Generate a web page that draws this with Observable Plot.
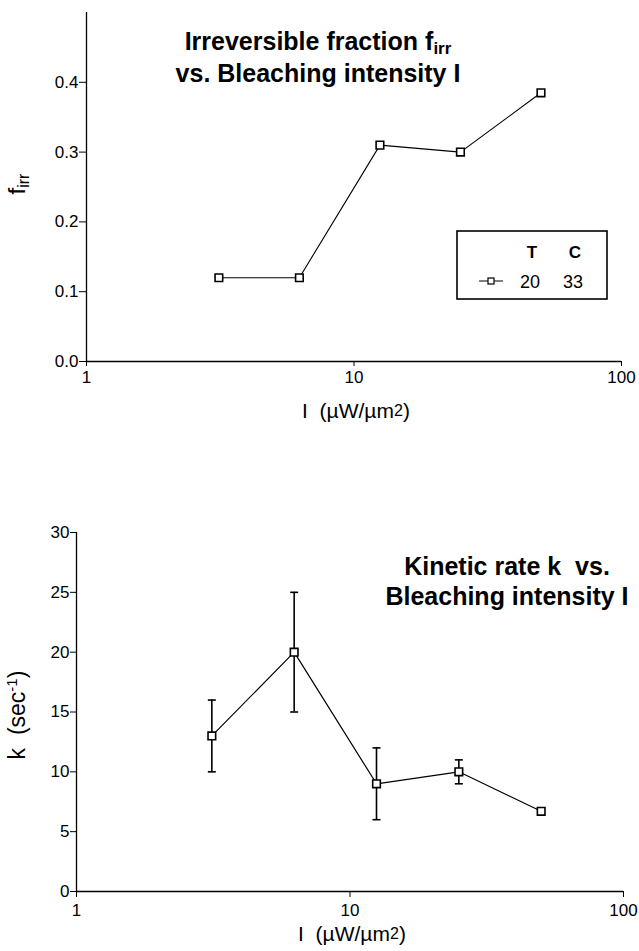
<!DOCTYPE html>
<html>
<head>
<meta charset="utf-8">
<script src="https://cdn.jsdelivr.net/npm/d3@7"></script>
<script src="https://cdn.jsdelivr.net/npm/@observablehq/plot@0.6"></script>
<style>
  body { margin: 0; background: #fff; }
  #wrap { width: 639px; }
  #wrap svg { display: block; }
</style>
</head>
<body>
<div id="wrap"></div>
<script>
// ---- data ----
const intensity = [3.125, 6.25, 12.5, 25, 50];      // I (µW/µm²)
const fIrr      = [0.12, 0.12, 0.31, 0.30, 0.385];   // irreversible fraction
const kRate     = [13, 20, 9, 10, 6.7];              // kinetic rate k (sec^-1)
const kLow      = [10, 15, 6, 9, 6.5];
const kHigh     = [16, 25, 12, 11, 6.9];
const xTicks    = [1, 10, 100];
const fTicks    = [0, 0.1, 0.2, 0.3, 0.4];
const kTicks    = [0, 5, 10, 15, 20, 25, 30];
const legendHeaders = ["T", "C"];
const legendValues  = ["20", "33"];

const FONT = "'Liberation Sans', Arial, Helvetica, sans-serif";

const fRows = intensity.map((x, i) => ({x, y: fIrr[i]}));
const kRows = intensity.map((x, i) => ({x, y: kRate[i], lo: kLow[i], hi: kHigh[i]}));

// horizontal cap symbol for error bars
const capSymbol = {
  draw(ctx, size) {
    const h = Math.sqrt(size / Math.PI);
    ctx.moveTo(-h, 0);
    ctx.lineTo(h, 0);
  }
};

const baseStyle = {fontFamily: FONT, fontSize: "17px", color: "#000", background: "#fff", overflow: "visible"};

const topPlot = Plot.plot({
  width: 639, height: 430,
  marginTop: 12, marginLeft: 86, marginRight: 18, marginBottom: 69,
  style: baseStyle,
  x: {type: "log", domain: [1, 100], ticks: xTicks, tickFormat: d => String(d), tickSize: 5, tickPadding: 4, label: null},
  y: {domain: [0, 0.5], ticks: fTicks, tickFormat: d3.format(".1f"), tickSize: 7, tickPadding: 1, label: null},
  marks: [
    Plot.ruleX([1], {stroke: "#000", strokeWidth: 1.3}),
    Plot.ruleY([0], {stroke: "#000", strokeWidth: 1.3}),
    Plot.line(fRows, {x: "x", y: "y", stroke: "#000", strokeWidth: 1.1}),
    Plot.dot(fRows, {x: "x", y: "y", symbol: "square", r: 4.3, fill: "#fff", stroke: "#000", strokeWidth: 1.6})
  ]
});

const botPlot = Plot.plot({
  width: 639, height: 521,
  marginTop: 102, marginLeft: 76, marginRight: 16, marginBottom: 60,
  style: baseStyle,
  x: {type: "log", domain: [1, 100], ticks: xTicks, tickFormat: d => String(d), tickSize: 6, tickPadding: 6, label: null},
  y: {domain: [0, 30], ticks: kTicks, tickFormat: d => String(d), tickSize: 6, tickPadding: 1, label: null},
  marks: [
    Plot.ruleX([1], {stroke: "#000", strokeWidth: 1.3}),
    Plot.ruleY([0], {stroke: "#000", strokeWidth: 1.3}),
    Plot.ruleX(kRows, {x: "x", y1: "lo", y2: "hi", stroke: "#000", strokeWidth: 1.6}),
    Plot.dot(kRows, {x: "x", y: "lo", symbol: capSymbol, r: 4, fill: "none", stroke: "#000", strokeWidth: 1.6}),
    Plot.dot(kRows, {x: "x", y: "hi", symbol: capSymbol, r: 4, fill: "none", stroke: "#000", strokeWidth: 1.6}),
    Plot.line(kRows, {x: "x", y: "y", stroke: "#000", strokeWidth: 1.2}),
    Plot.dot(kRows, {x: "x", y: "y", symbol: "square", r: 4.3, fill: "#fff", stroke: "#000", strokeWidth: 1.6})
  ]
});

const wrap = document.getElementById("wrap");
wrap.appendChild(topPlot);
wrap.appendChild(botPlot);

// ---- annotations: titles, axis labels, legend ----
function title(svg, cx, y0, lines, gap) {
  const g = d3.select(svg).append("g")
    .attr("font-family", FONT).attr("font-weight", "bold").attr("font-size", 25)
    .attr("text-anchor", "middle").attr("fill", "#000").attr("xml:space", "preserve");
  lines.forEach((parts, i) => {
    const t = g.append("text").attr("x", cx).attr("y", y0 + i * gap);
    parts.forEach(p => {
      const s = t.append("tspan").text(p.t);
      if (p.sub) s.attr("font-size", 17).attr("dy", 4);
    });
  });
}

function xLabel(svg, cx, y) {
  const t = d3.select(svg).append("text")
    .attr("x", cx).attr("y", y).attr("text-anchor", "middle")
    .attr("font-family", FONT).attr("font-size", 21).attr("fill", "#000")
    .attr("xml:space", "preserve");
  t.append("tspan").text("I  (\u00B5W/\u00B5m");
  t.append("tspan").attr("font-size", 16).attr("dy", -2).text("2");
  t.append("tspan").attr("dy", 2).text(")");
}

// top chart
const ts = topPlot;
title(ts, 318, 50, [[{t: "Irreversible fraction f"}, {t: "irr", sub: true}], [{t: "vs. Bleaching intensity I"}]], 32);
xLabel(ts, 356, 418);
{
  const t = d3.select(ts).append("text")
    .attr("transform", "translate(25,184) rotate(-90)")
    .attr("text-anchor", "middle")
    .attr("font-family", FONT).attr("font-size", 24).attr("fill", "#000");
  t.append("tspan").text("f");
  t.append("tspan").attr("font-size", 16).attr("dy", 4).text("irr");

  // legend
  const lg = d3.select(ts).append("g").attr("font-family", FONT).attr("fill", "#000");
  lg.append("rect").attr("x", 457).attr("y", 231).attr("width", 150).attr("height", 68)
    .attr("fill", "#fff").attr("stroke", "#000").attr("stroke-width", 1.6);
  const hx = [532, 575];
  legendHeaders.forEach((h, i) => lg.append("text").attr("x", hx[i]).attr("y", 258)
    .attr("text-anchor", "middle").attr("font-weight", "bold").attr("font-size", 17).text(h));
  legendValues.forEach((v, i) => lg.append("text").attr("x", hx[i] - 2).attr("y", 288)
    .attr("text-anchor", "middle").attr("font-size", 18).text(v));
  lg.append("line").attr("x1", 479).attr("x2", 503).attr("y1", 281).attr("y2", 281)
    .attr("stroke", "#000").attr("stroke-width", 1);
  lg.append("rect").attr("x", 488).attr("y", 278).attr("width", 6).attr("height", 6)
    .attr("fill", "#fff").attr("stroke", "#000").attr("stroke-width", 1.2);
}

// bottom chart
const bs = botPlot;
title(bs, 507, 145, [[{t: "Kinetic rate k  vs."}], [{t: "Bleaching intensity I"}]], 30);
xLabel(bs, 352, 511);
{
  const t = d3.select(bs).append("text")
    .attr("transform", "translate(25,285) rotate(-90)")
    .attr("text-anchor", "middle").attr("xml:space", "preserve")
    .attr("font-family", FONT).attr("font-size", 23).attr("fill", "#000");
  t.append("tspan").text("k  (sec");
  t.append("tspan").attr("font-size", 15).attr("dy", -8).text("-1");
  t.append("tspan").attr("dy", 8).text(")");
}
</script>
</body>
</html>
